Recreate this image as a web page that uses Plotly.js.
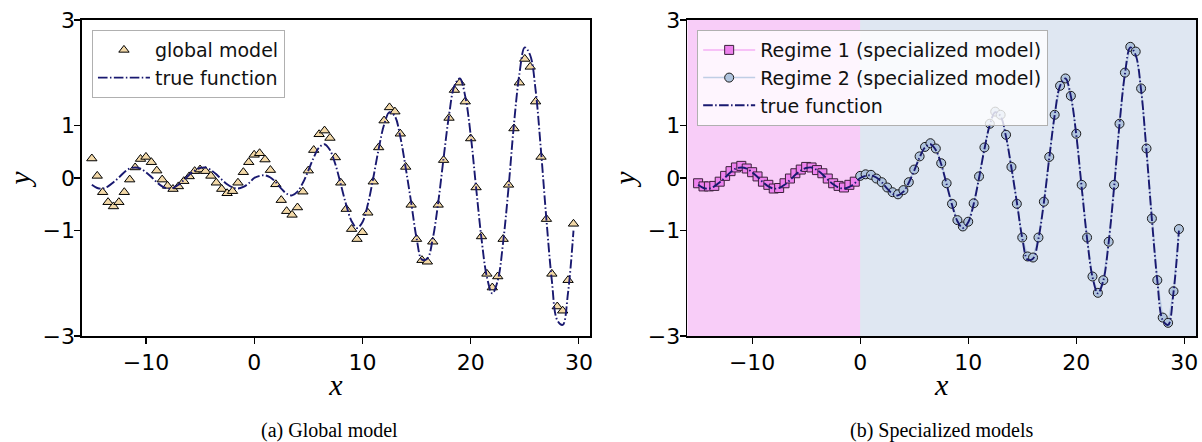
<!DOCTYPE html>
<html>
<head>
<meta charset="utf-8">
<script src="https://cdn.plot.ly/plotly-3.0.1.min.js"></script>
<style>html,body{margin:0;padding:0;background:#fff;}#chart{width:1202px;height:442px;}</style>
</head>
<body>
<div id="chart"></div>
<script>
// ---- data ----
const xGrid = [-15,-14.5,-14,-13.5,-13,-12.5,-12,-11.5,-11,-10.5,-10,-9.5,-9,-8.5,-8,-7.5,-7,-6.5,-6,-5.5,-5,-4.5,-4,-3.5,-3,-2.5,-2,-1.5,-1,-0.5,
  0,0.5,1,1.5,2,2.5,3,3.5,4,4.5,5,5.5,6,6.5,7,7.5,8,8.5,9,9.5,10,10.5,11,11.5,12,12.5,13,13.5,14,14.5,
  15,15.5,16,16.5,17,17.5,18,18.5,19,19.5,20,20.5,21,21.5,22,22.5,23,23.5,24,24.5,25,25.5,26,26.5,27,27.5,28,28.5,29,29.5];

const globalModelY = [0.37,0.04,-0.27,-0.46,-0.54,-0.46,-0.27,-0.03,0.20,0.36,0.40,0.30,0.14,-0.03,-0.15,-0.21,-0.16,-0.06,0.03,0.13,0.16,0.13,0.04,-0.09,-0.21,-0.29,-0.25,-0.09,0.11,0.30,
  0.44,0.47,0.35,0.15,-0.12,-0.42,-0.63,-0.70,-0.56,-0.26,0.14,0.53,0.83,0.90,0.76,0.39,-0.09,-0.59,-0.97,-1.16,-1.03,-0.66,-0.07,0.58,1.09,1.34,1.26,0.84,0.21,-0.51,
  -1.16,-1.56,-1.59,-1.21,-0.51,0.34,1.14,1.67,1.81,1.45,0.75,-0.18,-1.11,-1.82,-2.08,-1.87,-1.16,-0.13,0.94,1.81,2.26,2.11,1.45,0.40,-0.78,-1.82,-2.44,-2.52,-1.94,-0.87];

const trueY = [-0.13,-0.19,-0.20,-0.16,-0.08,0.01,0.11,0.18,0.20,0.18,0.11,0.02,-0.08,-0.16,-0.20,-0.19,-0.13,-0.04,0.06,0.14,0.19,0.20,0.15,0.07,-0.03,-0.12,-0.18,-0.20,-0.17,-0.10,
  0.00,0.04,0.05,0.01,-0.08,-0.20,-0.30,-0.33,-0.26,-0.09,0.14,0.39,0.58,0.64,0.53,0.26,-0.12,-0.51,-0.82,-0.95,-0.84,-0.50,0.00,0.55,1.01,1.25,1.17,0.78,0.19,-0.46,
  -1.14,-1.55,-1.53,-1.15,-0.47,0.38,1.19,1.75,1.89,1.55,0.82,-0.18,-1.15,-1.88,-2.19,-1.95,-1.22,-0.18,1.02,1.97,2.48,2.33,1.67,0.51,-0.79,-1.95,-2.70,-2.79,-2.17,-1.00];

const regime1X = [-15,-14.5,-14,-13.5,-13,-12.5,-12,-11.5,-11,-10.5,-10,-9.5,-9,-8.5,-8,-7.5,-7,-6.5,-6,-5.5,-5,-4.5,-4,-3.5,-3,-2.5,-2,-1.5,-1,-0.5];
const regime1Y = [-0.10,-0.16,-0.16,-0.15,-0.07,0.04,0.13,0.20,0.23,0.18,0.11,0.03,-0.07,-0.13,-0.20,-0.19,-0.10,-0.01,0.09,0.16,0.21,0.20,0.15,0.09,-0.01,-0.10,-0.15,-0.18,-0.13,-0.07];

const regime2X = [0,0.5,1,1.5,2,2.5,3,3.5,4,4.5,5,5.5,6,6.5,7,7.5,8,8.5,9,9.5,10,10.5,11,11.5,12,12.5,13,13.5,14,14.5,
  15,15.5,16,16.5,17,17.5,18,18.5,19,19.5,20,20.5,21,21.5,22,22.5,23,23.5,24,24.5,25,25.5,26,26.5,27,27.5,28,28.5,29,29.5];
const regime2Y = [0.04,0.07,0.06,-0.01,-0.08,-0.18,-0.27,-0.31,-0.23,-0.08,0.16,0.41,0.59,0.66,0.56,0.28,-0.10,-0.49,-0.80,-0.92,-0.83,-0.48,0.03,0.58,1.03,1.26,1.20,0.82,0.21,-0.49,
  -1.13,-1.49,-1.51,-1.13,-0.45,0.40,1.20,1.75,1.89,1.56,0.84,-0.13,-1.13,-1.87,-2.18,-1.94,-1.21,-0.13,1.03,2.00,2.49,2.40,1.70,0.56,-0.77,-1.94,-2.65,-2.75,-2.15,-0.97];

const yTickVals = [-3,-1,0,1,3];
const yTickText = ['\u22123','\u22121','0','1','3'];
const xTickVals = [-10,0,10,20,30];
const xTickText = ['\u221210','0','10','20','30'];
const captions = ['(a) Global model','(b) Specialized models'];

// ---- styling ----
const NAVY = '#191970';
const DASHDOT = '9.6px,2.4px,1.5px,2.4px';
const tickFont = {family:'DejaVu Sans', size:22, color:'black'};
const titleFont = {family:'Liberation Serif', size:30, color:'black', style:'italic'};

const traces = [
  {x:xGrid, y:globalModelY, mode:'markers', name:'global model', xaxis:'x', yaxis:'y', legend:'legend',
   marker:{symbol:'triangle-up', size:9, color:'#f3d9a8', line:{color:'black', width:1}}},
  {x:xGrid, y:trueY, mode:'lines', name:'true function', xaxis:'x', yaxis:'y', legend:'legend',
   line:{color:NAVY, width:1.9, dash:DASHDOT, shape:'spline', smoothing:1}},
  {x:regime1X, y:regime1Y, mode:'lines+markers', name:'Regime 1 (specialized model)', xaxis:'x2', yaxis:'y2', legend:'legend2',
   line:{color:'rgba(238,130,238,0.6)', width:1.5},
   marker:{symbol:'square', size:9, color:'#ee82ee', line:{color:'#3a203a', width:1}}},
  {x:regime2X, y:regime2Y, mode:'lines+markers', name:'Regime 2 (specialized model)', xaxis:'x2', yaxis:'y2', legend:'legend2',
   line:{color:'rgba(176,196,222,0.8)', width:1.5},
   marker:{symbol:'circle', size:9, color:'#b0c4de', line:{color:'#1a1a1a', width:1}}},
  {x:xGrid, y:trueY, mode:'lines', name:'true function', xaxis:'x2', yaxis:'y2', legend:'legend2',
   line:{color:NAVY, width:1.9, dash:DASHDOT, shape:'spline', smoothing:1}}
];

function xAxis(domain, range, anchor){
  return {domain:domain, range:range, anchor:anchor, tickmode:'array', tickvals:xTickVals, ticktext:xTickText,
    tickfont:tickFont, ticks:'outside', ticklen:6, tickwidth:1.2, tickcolor:'black',
    showline:true, linecolor:'black', linewidth:1.6, mirror:true, showgrid:false, zeroline:false,
    title:{text:'x', font:titleFont, standoff:0}};
}
function yAxis(anchor){
  return {domain:[0.2398,0.9548], range:[-3,3], anchor:anchor, tickmode:'array', tickvals:yTickVals, ticktext:yTickText,
    tickfont:tickFont, ticks:'outside', ticklen:6, tickwidth:1.2, tickcolor:'black', ticklabelstandoff:-5,
    showline:true, linecolor:'black', linewidth:1.6, mirror:true, showgrid:false, zeroline:false,
    title:{text:'y', font:titleFont, standoff:3}};
}

const legendBase = {
  bgcolor:'rgba(255,255,255,0.8)', bordercolor:'#b0b0b0', borderwidth:1,
  font:{family:'DejaVu Sans', size:19, color:'#111'}, xanchor:'left', yanchor:'top',
  itemwidth:52
};

const layout = {
  width:1202, height:442, margin:{l:0,r:0,t:0,b:0},
  paper_bgcolor:'white', plot_bgcolor:'rgba(0,0,0,0)',
  font:{family:'DejaVu Sans', color:'black'},
  showlegend:true,
  xaxis:xAxis([0.0682,0.4908], [-15.91,31.02], 'y'),
  yaxis:yAxis('x'),
  xaxis2:xAxis([0.5718,0.995], [-16.0,31.08], 'y2'),
  yaxis2:yAxis('x2'),
  legend:Object.assign({}, legendBase, {x:0.0765, y:0.932}),
  legend2:Object.assign({}, legendBase, {x:0.580, y:0.932}),
  shapes:[
    {type:'rect', xref:'x2', yref:'y2 domain', x0:-16.0, x1:0, y0:0, y1:1, fillcolor:'rgba(238,130,238,0.4)', line:{width:0}, layer:'below'},
    {type:'rect', xref:'x2', yref:'y2 domain', x0:0, x1:31.08, y0:0, y1:1, fillcolor:'rgba(176,196,222,0.4)', line:{width:0}, layer:'below'}
  ],
  annotations:[
    {text:captions[0], xref:'paper', yref:'paper', x:0.2745, y:0.027, xanchor:'center', yanchor:'middle', showarrow:false,
     font:{family:'Liberation Serif', size:20, color:'black'}},
    {text:captions[1], xref:'paper', yref:'paper', x:0.7834, y:0.027, xanchor:'center', yanchor:'middle', showarrow:false,
     font:{family:'Liberation Serif', size:20, color:'black'}}
  ]
};

Plotly.newPlot('chart', traces, layout, {displayModeBar:false, staticPlot:true});
</script>
</body>
</html>
